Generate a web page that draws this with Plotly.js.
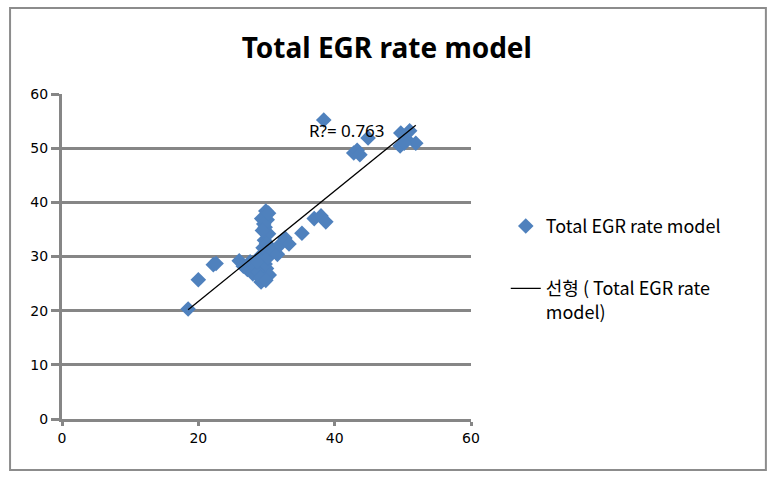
<!DOCTYPE html>
<html>
<head>
<meta charset="utf-8">
<script src="https://cdn.plot.ly/plotly-3.0.1.min.js"></script>
<style>html,body{margin:0;padding:0;background:#fff;}#chart{width:769px;height:479px;}</style>
</head>
<body>
<div id="chart"></div>
<script>
// Measured EGR rate (x) vs model EGR rate (y)
const egrX = [18.5, 20.0, 22.2, 22.6, 26.0, 26.6, 27.2, 27.6, 28.0, 28.4, 28.8, 29.0, 29.2, 29.4, 29.5, 29.6, 29.7, 29.8, 29.9, 30.0, 30.1, 30.2, 30.3, 30.4, 29.3, 29.6, 30.0, 30.3, 29.4, 29.8, 30.2, 28.6, 29.1, 30.5, 29.9, 31.0, 31.6, 32.0, 32.7, 33.3, 35.2, 37.0, 38.0, 38.7, 38.4, 42.8, 43.3, 43.7, 44.9, 49.7, 49.6, 50.5, 51.0, 51.9, 50.2];
const egrY = [20.3, 25.7, 28.5, 28.7, 29.2, 28.2, 27.6, 29.0, 26.8, 28.0, 27.2, 30.0, 25.3, 26.4, 31.6, 29.4, 33.0, 35.4, 38.4, 27.8, 36.8, 30.8, 34.2, 26.6, 37.0, 36.0, 32.4, 38.0, 34.8, 28.6, 29.8, 29.0, 26.0, 31.4, 25.6, 31.0, 30.4, 32.2, 33.4, 32.3, 34.3, 37.0, 37.5, 36.4, 55.2, 49.1, 49.6, 48.8, 51.9, 52.8, 50.4, 51.7, 53.2, 50.9, 50.9];
const seriesName = "Total EGR rate model";
const trendName = "선형 ( Total EGR rate<br>model)";
const r2Label = "R?= 0.763";
const xTicks = [0, 20, 40, 60];
const yTicks = [0, 10, 20, 30, 40, 50, 60];

// least-squares linear trendline
const n = egrX.length;
const mx = egrX.reduce((a,b)=>a+b,0)/n;
const my = egrY.reduce((a,b)=>a+b,0)/n;
let sxy=0, sxx=0;
for (let i=0;i<n;i++){ sxy += (egrX[i]-mx)*(egrY[i]-my); sxx += (egrX[i]-mx)**2; }
const slope = sxy/sxx, icpt = my - slope*mx;
const xmin = Math.min(...egrX), xmax = Math.max(...egrX);
const trendX = [xmin, xmax];
const trendY = trendX.map(v => icpt + slope*v);

const grid = '#868686';
const traces = [
  {x: egrX, y: egrY, type: 'scatter', mode: 'markers', name: seriesName, legendgroup: 'a',
   marker: {symbol: 'diamond', size: 12, color: '#4F81BD', line: {width: 0}}},
  {x: trendX, y: trendY, type: 'scatter', mode: 'lines', name: trendName, legendgroup: 'b',
   line: {color: '#000000', width: 1.3}}
];
const layout = {
  width: 769, height: 479,
  margin: {l: 62, r: 298, t: 94, b: 60},
  paper_bgcolor: '#ffffff', plot_bgcolor: '#ffffff',
  title: {text: '<b>Total EGR rate model</b>', x: 0.503, xanchor: 'center', y: 0.9, yanchor: 'middle',
          font: {family: 'Noto Sans, Open Sans, sans-serif', size: 28, color: '#000'}},
  font: {family: 'DejaVu Sans, sans-serif', size: 13, color: '#000'},
  xaxis: {range: [0, 60], tickvals: xTicks, ticktext: xTicks.map(String), showgrid: false, zeroline: false,
          showline: true, linecolor: grid, linewidth: 3, ticks: 'outside', ticklen: 4, tickwidth: 3, tickcolor: grid,
          tickfont: {size: 14}},
  yaxis: {range: [0, 60], tickvals: yTicks, ticktext: yTicks.map(String), showgrid: true, gridcolor: grid, gridwidth: 3,
          zeroline: false, showline: true, linecolor: grid, linewidth: 3, ticks: 'outside', ticklen: 8, tickwidth: 3,
          tickcolor: grid, tickfont: {size: 14}},
  showlegend: true,
  legend: {x: 1.085, xanchor: 'left', y: 0.65, yanchor: 'top', bgcolor: 'rgba(0,0,0,0)', traceorder: 'grouped',
           valign: 'top',
           font: {family: 'Noto Sans CJK KR, sans-serif', size: 18, color: '#000'}, tracegroupgap: 36, itemwidth: 30},
  annotations: [{x: 41.8, y: 53.3, xref: 'x', yref: 'y', text: r2Label, showarrow: false,
                 font: {family: 'Noto Sans, sans-serif', size: 17, color: '#000'}}],
  shapes: [{type: 'rect', xref: 'paper', yref: 'paper', x0: -0.127, x1: 1.721, y0: -0.157, y1: 1.265,
            line: {color: '#8c8c8c', width: 2}, layer: 'below'}]
};
Plotly.newPlot('chart', traces, layout, {displayModeBar: false, staticPlot: true});
</script>
</body>
</html>
